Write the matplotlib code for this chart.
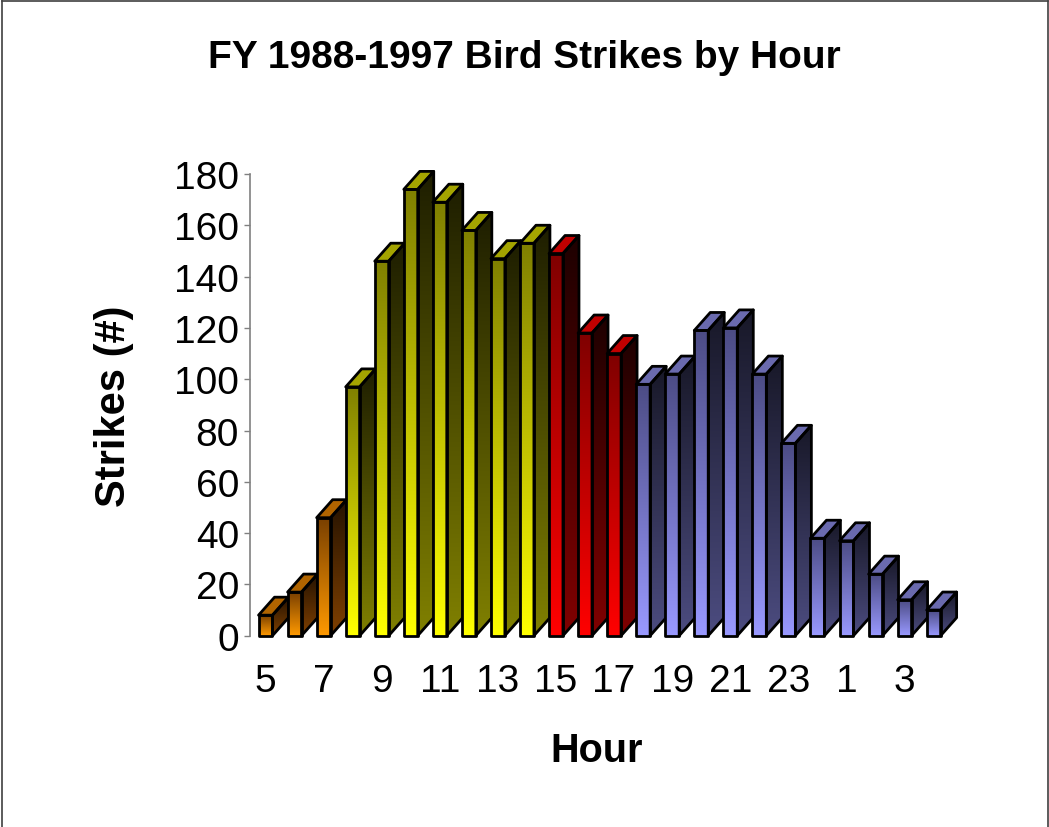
import numpy as np
import matplotlib
matplotlib.use("Agg")
import matplotlib.pyplot as plt
from matplotlib.patches import Polygon
from matplotlib.lines import Line2D
from matplotlib.colors import to_rgb

# ---- data ----
hours = [5, 6, 7, 8, 9, 10, 11, 12, 13, 14, 15, 16, 17, 18, 19, 20, 21, 22, 23, 0, 1, 2, 3, 4]
strikes = [8, 17, 46, 97, 146, 174, 169, 158, 147, 153, 149, 118, 110, 98, 102, 119, 120, 102, 75, 38, 37, 24, 14, 10]
period = ["dawn"] * 3 + ["day"] * 7 + ["dusk"] * 3 + ["night"] * 11
y_ticks = [0, 20, 40, 60, 80, 100, 120, 140, 160, 180]
title = "FY 1988-1997 Bird Strikes by Hour"
y_label = "Strikes (#)"
x_label = "Hour"

# ---- styles ----
palette = {
    # front bottom, front top, side bottom, side top, top face
    "dawn":  ("#FF9900", "#7A4000", "#804000", "#261300", "#B06400"),
    "day":   ("#FFFF00", "#808000", "#808000", "#1E1E00", "#A4A400"),
    "dusk":  ("#FF0000", "#800000", "#800000", "#1E0000", "#C00000"),
    "night": ("#9999FF", "#4C4C85", "#4C4C80", "#181828", "#6A6AAE"),
}

plt.rcParams['font.family'] = ['Liberation Sans', 'DejaVu Sans']

W, H = 1049, 828
fig = plt.figure(figsize=(W / 100, H / 100), dpi=100)
fig.patch.set_facecolor("white")

px_unit_y = (636.7 - 175.0) / 180.0
px_unit_x = 29.05
y_top = 186
ax_left_px, ax_right_px = 250, 962
ax_bottom_px = 636.7
ax_top_px = ax_bottom_px - y_top * px_unit_y
ax = fig.add_axes([ax_left_px / W, 1 - ax_bottom_px / H,
                   (ax_right_px - ax_left_px) / W, (ax_bottom_px - ax_top_px) / H])
x_lo = -(265.5 - ax_left_px) / px_unit_x
x_hi = x_lo + (ax_right_px - ax_left_px) / px_unit_x

w = 0.48
dx = 16.0 / px_unit_x
dy = 18.0 / px_unit_y
lw = 2.0


def gradient_face(poly, y0, y1, x0, x1, cb, ct, z):
    n = 128
    t = np.linspace(0, 1, n)[:, None]
    cb = np.array(to_rgb(cb)); ct = np.array(to_rgb(ct))
    img = (cb * (1 - t) + ct * t)[:, None, :]
    im = ax.imshow(img, extent=[x0, x1, y0, y1], origin='lower', aspect='auto',
                   interpolation='bilinear', zorder=z)
    p = Polygon(poly, closed=True, facecolor='none', edgecolor='black',
                lw=lw, joinstyle='round', zorder=z + 0.5, clip_on=False)
    ax.add_patch(p)
    im.set_clip_path(p)


for i, (v, per) in enumerate(zip(strikes, period)):
    fb, ft, sb, st, tc = palette[per]
    z = 2 + i
    xl, xr = i - w / 2, i + w / 2
    # side face
    side = [(xr, 0), (xr + dx, dy), (xr + dx, v + dy), (xr, v)]
    gradient_face(side, 0, v + dy, xr, xr + dx, sb, st, z)
    # front face
    front = [(xl, 0), (xr, 0), (xr, v), (xl, v)]
    gradient_face(front, 0, v, xl, xr, fb, ft, z + 0.1)
    # top face
    top = [(xl, v), (xr, v), (xr + dx, v + dy), (xl + dx, v + dy)]
    ax.add_patch(Polygon(top, closed=True, facecolor=tc, edgecolor='black',
                         lw=lw, joinstyle='round', zorder=z + 0.3, clip_on=False))

ax.set_xlim(x_lo, x_hi)
ax.set_ylim(0, y_top)
ax.set_facecolor('none')
for s in ['top', 'right', 'bottom']:
    ax.spines[s].set_visible(False)
ax.spines['left'].set_bounds(0, 180)
ax.spines['left'].set_color('#808080')
ax.spines['left'].set_linewidth(1.2)
ax.set_yticks(y_ticks)
ax.set_yticklabels([str(t) for t in y_ticks])
ax.tick_params(axis='y', direction='out', length=4, width=1.0, color='#808080',
               labelsize=28, pad=4)
xt = list(range(0, len(hours), 2))
ax.set_xticks(xt)
ax.set_xticklabels([str(hours[i]) for i in xt])
ax.tick_params(axis='x', length=0, labelsize=28, pad=20)

fig.text(524 / W, 1 - 58 / H, title, ha='center', va='center',
         fontsize=28, fontweight='bold')
fig.text(114 / W, 1 - 406 / H, y_label, ha='center', va='center',
         rotation=90, fontsize=30, fontweight='bold')
fig.text(597 / W, 1 - 751 / H, x_label, ha='center', va='center',
         fontsize=28.5, fontweight='bold')

# outer border (left, top, right)
bc = '#404040'
fig.add_artist(Line2D([1.5 / W, 1.5 / W], [0, 1 - 1.5 / H], color=bc, lw=1.2, transform=fig.transFigure))
fig.add_artist(Line2D([1.5 / W, 1 - 1.5 / W], [1 - 1.5 / H, 1 - 1.5 / H], color=bc, lw=1.2, transform=fig.transFigure))
fig.add_artist(Line2D([1 - 1.5 / W, 1 - 1.5 / W], [0, 1 - 1.5 / H], color=bc, lw=1.2, transform=fig.transFigure))

fig.savefig("out.png", dpi=100)
